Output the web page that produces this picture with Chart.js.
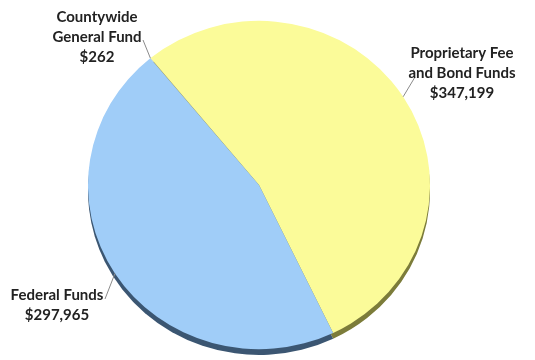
<!DOCTYPE html>
<html>
<head>
<meta charset="utf-8">
<script src="https://cdn.jsdelivr.net/npm/chart.js@4/dist/chart.umd.min.js"></script>
<style>
    html, body { margin: 0; padding: 0; background: #fff; }
    #wrap { width: 535px; height: 360px; position: relative; }
</style>
</head>
<body>
<div id="wrap"><canvas id="pieChart"></canvas></div>
<script>
const categories = [
    ['Countywide', 'General Fund'],
    ['Proprietary Fee', 'and Bond Funds'],
    ['Federal Funds']
];
const amounts = [262, 347199, 297965];
const amountLabels = ['$262', '$347,199', '$297,965'];
const sliceColors = ['#b0b0a0', '#fbfb99', '#a0cdf8'];
const edgeColors = ['#6a6a50', '#7c7c3a', '#3b5672'];

// label placement (text centre x, first line y, leader line end) per slice
const labelLayout = [
    { x: 97, y: 17, lx: 143, ly: 40 },
    { x: 462, y: 53, lx: 415, ly: 77 },
    { x: 57, y: 295, lx: 105, ly: 299 }
];

const squash = 0.96;

function squashCtx(chart) {
    const arc = chart.getDatasetMeta(0).data[0];
    const ctx = chart.ctx;
    ctx.translate(arc.x, arc.y);
    ctx.scale(1, squash);
    ctx.translate(-arc.x, -arc.y);
}

const tiltPlugin = {
    id: 'tilt',
    beforeDatasetsDraw(chart) {
        const ctx = chart.ctx;
        const arcs = chart.getDatasetMeta(0).data;
        ctx.save();
        squashCtx(chart);
        ctx.translate(0, 6);
        arcs.forEach((a, i) => {
            ctx.beginPath();
            ctx.moveTo(a.x, a.y);
            ctx.arc(a.x, a.y, a.outerRadius, a.startAngle, a.endAngle);
            ctx.closePath();
            ctx.fillStyle = edgeColors[i];
            ctx.fill();
        });
        ctx.restore();
        ctx.save();
        squashCtx(chart);
    },
    afterDatasetsDraw(chart) {
        const ctx = chart.ctx;
        ctx.restore();
        const arcs = chart.getDatasetMeta(0).data;
        ctx.save();
        arcs.forEach((a, i) => {
            const mid = (a.startAngle + a.endAngle) / 2;
            const px = a.x + Math.cos(mid) * a.outerRadius;
            const py = a.y + Math.sin(mid) * a.outerRadius * squash;
            const lay = labelLayout[i];
            ctx.strokeStyle = '#8a8a8a';
            ctx.lineWidth = 1;
            ctx.beginPath();
            ctx.moveTo(px, py);
            ctx.lineTo(lay.lx, lay.ly);
            ctx.stroke();

            const lines = categories[i].concat([amountLabels[i]]);
            ctx.fillStyle = '#222';
            ctx.font = 'bold 15px Lato, "Open Sans", sans-serif';
            ctx.textAlign = 'center';
            ctx.textBaseline = 'middle';
            lines.forEach((t, j) => ctx.fillText(t, lay.x, lay.y + j * 20));
        });
        ctx.restore();
    }
};

new Chart(document.getElementById('pieChart'), {
    type: 'pie',
    data: {
        labels: categories.map(c => c.join(' ')),
        datasets: [{
            data: amounts,
            backgroundColor: sliceColors,
            borderWidth: 0,
            hoverOffset: 0
        }]
    },
    options: {
        responsive: true,
        maintainAspectRatio: false,
        animation: false,
        rotation: -39.5,
        layout: { padding: { top: 14, bottom: 4, left: 88, right: 105 } },
        plugins: {
            legend: { display: false },
            tooltip: { enabled: false }
        }
    },
    plugins: [tiltPlugin]
});
</script>
</body>
</html>
